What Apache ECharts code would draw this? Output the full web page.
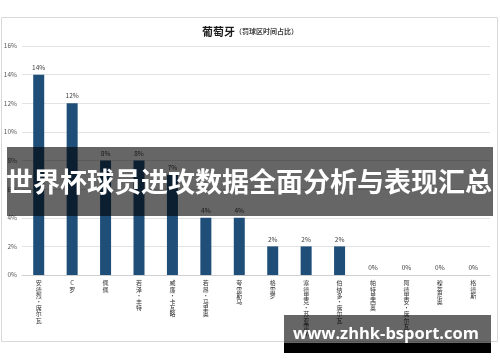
<!DOCTYPE html>
<html><head><meta charset="utf-8">
<script src="https://cdn.jsdelivr.net/npm/echarts@6/dist/echarts.min.js"></script>
<style>html,body{margin:0;padding:0;background:#fff}#c{width:500px;height:362px}</style>
</head><body><div id="c"></div>
<script>
const categories = ['安德烈·席尔瓦','C罗','佩佩','若泽·丰特','威廉·卡瓦略','若昂·马里奥','夸雷斯马','格雷罗','塞德里克·苏亚雷斯','伯纳多·席尔瓦','帕特里西奥','阿德里安·席尔瓦','穆蒂尼奥','格德斯'];
const values = [14, 12, 8, 8, 7, 4, 4, 2, 2, 2, 0, 0, 0, 0];
const yTicks = [0, 2, 4, 6, 8, 10, 12, 14, 16];
const titleMain = '葡萄牙';
const titleSub = '（罚球区时间占比）';
const bannerText = '世界杯球员进攻数据全面分析与表现汇总';
const watermarkText = 'www.zhhk-bsport.com';

const font = '"Noto Sans CJK SC", "Noto Sans", sans-serif';
const chart = echarts.init(document.getElementById('c'));
chart.setOption({
  backgroundColor: '#fff',
  animation: false,
  title: {
    text: '{a|' + titleMain + '}{b|' + titleSub + '}',
    left: 'center', top: 21,
    textStyle: { rich: {
      a: { fontSize: 11, fontWeight: 'bold', color: '#1a1a1a', fontFamily: font },
      b: { fontSize: 7, color: '#404040', fontFamily: font }
    }}
  },
  grid: { left: 22, right: 10, top: 46, bottom: 87 },
  xAxis: {
    type: 'category', data: categories,
    axisLine: { lineStyle: { color: '#d0d0d0' } },
    axisTick: { show: false },
    axisLabel: {
      interval: 0, margin: 5, fontSize: 6, lineHeight: 6.2, color: '#333', fontFamily: font,
      verticalAlign: 'top',
      formatter: v => v.split('').join('\n')
    }
  },
  yAxis: {
    type: 'value', min: yTicks[0], max: yTicks[yTicks.length - 1], interval: 2,
    axisLine: { show: false }, axisTick: { show: false },
    axisLabel: { formatter: '{value}%', fontSize: 6.5, color: '#595959', margin: 5, fontFamily: font },
    splitLine: { lineStyle: { color: '#e3e3e3' } }
  },
  series: [{
    type: 'bar', data: values, barWidth: 11,
    itemStyle: { color: '#1f4e79' },
    label: { show: true, position: 'top', formatter: '{c}%', fontSize: 6.5, color: '#404040', distance: 4, fontFamily: font }
  }],
  graphic: [
    { type: 'rect', shape: { x: 1.5, y: 17.5, width: 496, height: 324 }, style: { fill: 'none', stroke: '#d9d9d9', lineWidth: 1 }, z: 1 },
    { type: 'rect', shape: { x: 7, y: 147, width: 486, height: 69 }, style: { fill: 'rgba(0,0,0,0.6)' }, z: 100 },
    { type: 'text', x: 249, y: 182, style: { text: bannerText, fill: '#fff', font: 'bold 27px ' + font, align: 'center', verticalAlign: 'middle' }, z: 101 },
    { type: 'rect', shape: { x: 284, y: 315, width: 207, height: 28 }, style: { fill: 'rgba(0,0,0,0.6)' }, z: 100 },
    { type: 'rect', shape: { x: 284, y: 343, width: 207, height: 10 }, style: { fill: '#000' }, z: 100 },
    { type: 'text', x: 386, y: 334, style: { text: watermarkText, fill: '#fff', font: 'bold 16.5px "Open Sans", "DejaVu Sans", sans-serif', align: 'center', verticalAlign: 'middle' }, z: 101 }
  ]
});
</script></body></html>
